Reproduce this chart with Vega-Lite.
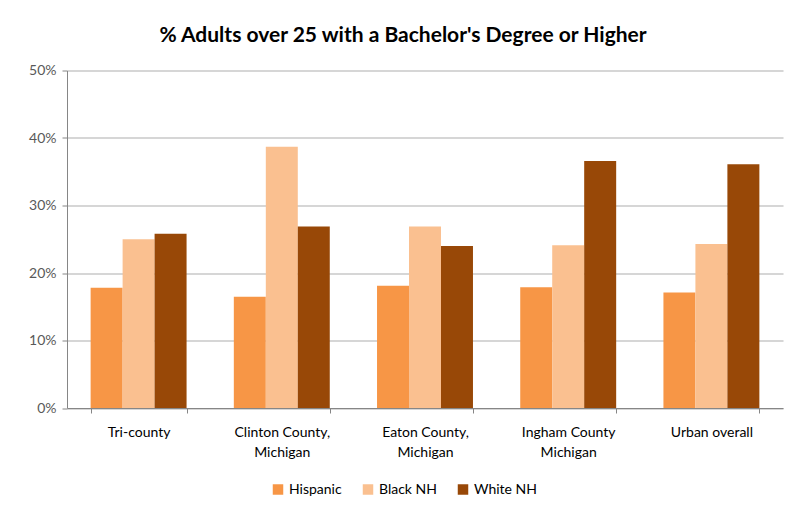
{
  "$schema": "https://vega.github.io/schema/vega-lite/v6.json",
  "autosize": "none",
  "width": 716,
  "height": 337.5,
  "padding": {"left": 67, "top": 70.5, "right": 23, "bottom": 104},
  "background": "white",
  "title": {
    "text": "% Adults over 25 with a Bachelor's Degree or Higher",
    "font": "Lato",
    "fontSize": 21,
    "fontWeight": "bold",
    "color": "#000000",
    "anchor": "middle",
    "dx": -22,
    "offset": 18
  },
  "data": {
    "values": [
      {"area": "Tri-county", "group": "Hispanic", "pct": 0.178},
      {"area": "Tri-county", "group": "Black NH", "pct": 0.250},
      {"area": "Tri-county", "group": "White NH", "pct": 0.258},
      {"area": "Clinton County, Michigan", "group": "Hispanic", "pct": 0.165},
      {"area": "Clinton County, Michigan", "group": "Black NH", "pct": 0.387},
      {"area": "Clinton County, Michigan", "group": "White NH", "pct": 0.269},
      {"area": "Eaton County, Michigan", "group": "Hispanic", "pct": 0.181},
      {"area": "Eaton County, Michigan", "group": "Black NH", "pct": 0.269},
      {"area": "Eaton County, Michigan", "group": "White NH", "pct": 0.240},
      {"area": "Ingham County Michigan", "group": "Hispanic", "pct": 0.179},
      {"area": "Ingham County Michigan", "group": "Black NH", "pct": 0.241},
      {"area": "Ingham County Michigan", "group": "White NH", "pct": 0.366},
      {"area": "Urban overall", "group": "Hispanic", "pct": 0.171},
      {"area": "Urban overall", "group": "Black NH", "pct": 0.243},
      {"area": "Urban overall", "group": "White NH", "pct": 0.361}
    ]
  },
  "mark": {"type": "bar"},
  "encoding": {
    "x": {
      "field": "area",
      "type": "nominal",
      "sort": null,
      "scale": {"paddingInner": 0.33, "paddingOuter": 0.165},
      "axis": {
        "title": null,
        "labelAngle": 0,
        "labelFont": "Lato",
        "labelFontSize": 14,
        "labelColor": "#000000",
        "labelPadding": 12,
        "labelLineHeight": 20,
        "labelExpr": "split(replace(replace(datum.label, ', ', ',|'), 'County M', 'County|M'), '|')",
        "tickBand": "extent",
        "tickSize": 5,
        "tickColor": "#868686",
        "domainColor": "#868686",
        "grid": false
      }
    },
    "xOffset": {
      "field": "group",
      "type": "nominal",
      "sort": ["Hispanic", "Black NH", "White NH"],
      "scale": {"paddingInner": 0, "paddingOuter": 0}
    },
    "y": {
      "field": "pct",
      "type": "quantitative",
      "scale": {"domain": [0, 0.5]},
      "axis": {
        "title": null,
        "values": [0, 0.1, 0.2, 0.3, 0.4, 0.5],
        "format": ".0%",
        "labelFont": "Lato",
        "labelFontSize": 14,
        "labelColor": "#595959",
        "labelPadding": 6,
        "tickSize": 5,
        "tickColor": "#868686",
        "domainColor": "#868686",
        "gridColor": "#c8c8c8",
        "gridWidth": 1.3
      }
    },
    "color": {
      "field": "group",
      "type": "nominal",
      "sort": ["Hispanic", "Black NH", "White NH"],
      "scale": {
        "domain": ["Hispanic", "Black NH", "White NH"],
        "range": ["#F79646", "#FAC090", "#984807"]
      },
      "legend": {
        "title": null,
        "orient": "none",
        "direction": "horizontal",
        "legendX": 204,
        "legendY": 412,
        "symbolType": "square",
        "symbolSize": 110,
        "symbolStrokeWidth": 0,
        "labelFont": "Lato",
        "labelFontSize": 14,
        "labelColor": "#000000",
        "labelOffset": 4,
        "columnPadding": 19
      }
    }
  },
  "config": {
    "view": {"stroke": null}
  }
}
